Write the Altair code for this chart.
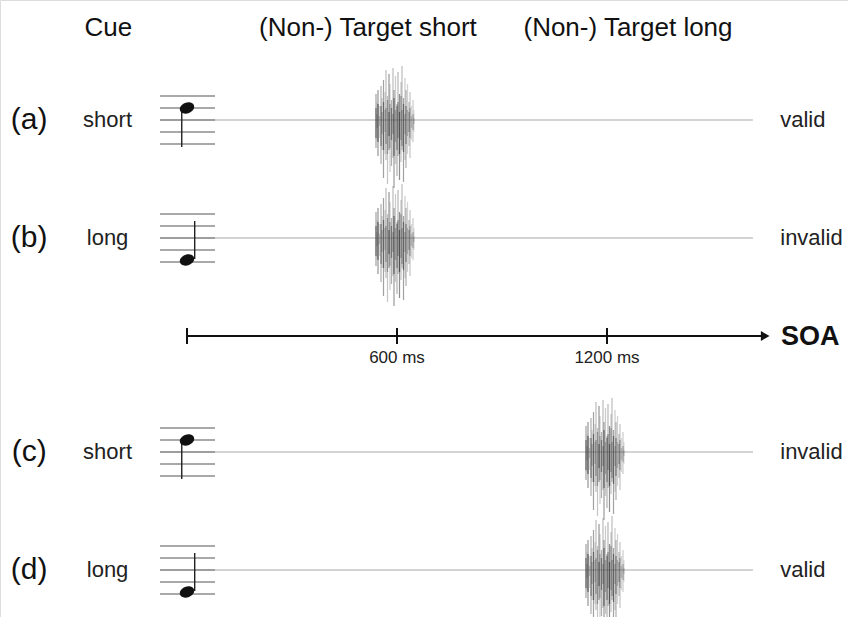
import altair as alt
import pandas as pd

# ---- trial types -------------------------------------------------------
ROW_TAGS = ["(a)", "(b)", "(c)", "(d)"]
CUES = ["short", "long", "short", "long"]
TARGET_MS = [600, 600, 1200, 1200]
VALIDITY = ["valid", "invalid", "invalid", "valid"]

HEADERS = ["Cue", "(Non-) Target short", "(Non-) Target long"]
SOA_TICKS = [0, 600, 1200]
SOA_LABELS = ["", "600 ms", "1200 ms"]

# ---- noise burst waveform: strand offset (px), extent above / below, darkness
BURST_OFFSET = [-21, -20, -19, -17.5, -16, -15, -13.5, -12, -11, -9.5, -8, -7, -5.5, -4, -3,
                -1.5, 0, 1, 2.5, 4, 5, 6.5, 8, 9, 10.5, 12, 13, 14.5, 16, 17]
BURST_UP = [26, 18, 30, 14, 34, 22, 40, 28, 50, 24, 46, 36, 20, 52, 30,
            44, 16, 48, 26, 38, 54, 22, 42, 30, 36, 18, 28, 14, 20, 10]
BURST_DOWN = [28, 20, 36, 18, 44, 30, 58, 34, 40, 64, 30, 52, 46, 38, 68,
              44, 56, 36, 60, 42, 30, 62, 40, 48, 34, 26, 38, 20, 22, 12]
BURST_SHADE = [0.7, 0.3, 0.8, 0.3, 0.6, 0.4, 0.7, 0.35, 0.5, 0.45, 0.8, 0.4, 0.6, 0.5, 0.75,
               0.4, 0.6, 0.55, 0.85, 0.45, 0.5, 0.7, 0.4, 0.6, 0.35, 0.5, 0.45, 0.3, 0.4, 0.25]
CORE_UP = [12, 6, 16, 4, 14, 8, 18, 10, 12, 20, 8, 16, 12, 6, 22,
           10, 14, 18, 8, 24, 10, 16, 6, 14, 10, 8, 12, 4, 6, 2]
CORE_DOWN = [18, 8, 22, 6, 26, 14, 30, 12, 24, 34, 16, 28, 20, 14, 36,
             22, 30, 18, 34, 20, 26, 32, 14, 24, 16, 12, 18, 8, 10, 4]

# ---- layout ------------------------------------------------------------
W, H = 848, 617
ORIGIN_PX = 187          # cue onset (0 ms) on the horizontal scale
PX_PER_MS = 0.35
ROW_Y = [120, 238, 452, 570]
AXIS_Y = 336
STAFF_GAP = 12
STAFF_X0, STAFF_X1 = -77, 80      # ms
LINE_END = 1617
AXIS_END = 1640
ARROW_AT = 1652
TAG_X = -451
CUE_X = -227
RIGHT_X = 1695
HEADER_X = [-225, 517, 1260]
HEADER_Y = 28
FONT = "Liberation Sans"

xs = alt.Scale(domain=[-ORIGIN_PX / PX_PER_MS, (W - ORIGIN_PX) / PX_PER_MS], nice=False, zero=False)
ys = alt.Scale(domain=[0, H], reverse=True, nice=False, zero=False)


def X(f="x"):
    return alt.X(f"{f}:Q", scale=xs, axis=None)


def Y(f="y"):
    return alt.Y(f"{f}:Q", scale=ys, axis=None)


rows = pd.DataFrame({"tag": ROW_TAGS, "cue": CUES, "target": TARGET_MS,
                     "validity": VALIDITY, "y": ROW_Y})

staff = pd.DataFrame([{"x": STAFF_X0, "x2": STAFF_X1, "y": ry + k * STAFF_GAP}
                      for ry in ROW_Y for k in range(-2, 3)])
lines = pd.DataFrame({"x": [STAFF_X0] * 4, "x2": [LINE_END] * 4, "y": ROW_Y})

stems, heads = [], []
for ry, cue in zip(ROW_Y, CUES):
    if cue == "short":
        heads.append({"x": 0, "y": ry - STAFF_GAP})
        stems.append({"x": -15, "y": ry - 11, "y2": ry + 27})
    else:
        heads.append({"x": 0, "y": ry + 22})
        stems.append({"x": 22, "y": ry - 17, "y2": ry + 21})
stems = pd.DataFrame(stems)
heads = pd.DataFrame(heads)

outer, core = [], []
for ry, t in zip(ROW_Y, TARGET_MS):
    for off, u, d, s, cu, cd in zip(BURST_OFFSET, BURST_UP, BURST_DOWN, BURST_SHADE, CORE_UP, CORE_DOWN):
        x = t + off / PX_PER_MS
        outer.append({"x": x, "y": ry - u, "y2": ry + d, "op": s})
        core.append({"x": x, "y": ry - cu, "y2": ry + cd, "op": s * 0.8})
outer = pd.DataFrame(outer)
core = pd.DataFrame(core)

axis_line = pd.DataFrame({"x": [0], "x2": [AXIS_END], "y": [AXIS_Y]})
ticks = pd.DataFrame({"x": SOA_TICKS, "label": SOA_LABELS,
                      "y": [AXIS_Y - 8] * 3, "y2": [AXIS_Y + 8] * 3,
                      "ly": [AXIS_Y + 22] * 3})
arrow = pd.DataFrame({"x": [ARROW_AT], "y": [AXIS_Y]})
soa = pd.DataFrame({"x": [RIGHT_X + 2], "y": [AXIS_Y + 1], "t": ["SOA"]})
headers = pd.DataFrame({"x": HEADER_X, "y": [HEADER_Y] * 3, "t": HEADERS})

NOTE_HEAD = "M -0.94 0.34 A 1 0.7 -20 1 1 0.94 -0.34 A 1 0.7 -20 1 1 -0.94 0.34 Z"
OP = alt.Opacity("op:Q", scale=None, legend=None)

layers = [
    alt.Chart(lines).mark_rule(color="#a8a8a8", strokeWidth=1.2).encode(x=X(), x2="x2", y=Y()),
    alt.Chart(staff).mark_rule(color="#8c8c8c", strokeWidth=1.4).encode(x=X(), x2="x2", y=Y()),
    alt.Chart(outer).mark_rule(color="#7a7a7a", strokeWidth=1.2).encode(x=X(), y=Y(), y2="y2", opacity=OP),
    alt.Chart(core).mark_rule(color="#333333", strokeWidth=1.3).encode(x=X(), y=Y(), y2="y2", opacity=OP),
    alt.Chart(stems).mark_rule(color="#222222", strokeWidth=1.4).encode(x=X(), y=Y(), y2="y2"),
    alt.Chart(heads).mark_point(shape=NOTE_HEAD, filled=True, color="#111111", opacity=1, size=220).encode(x=X(), y=Y()),
    alt.Chart(axis_line).mark_rule(color="#111111", strokeWidth=2).encode(x=X(), x2="x2", y=Y()),
    alt.Chart(ticks).mark_rule(color="#111111", strokeWidth=2).encode(x=X(), y=Y(), y2="y2"),
    alt.Chart(arrow).mark_point(shape="triangle-right", filled=True, color="#111111", opacity=1, size=100).encode(x=X(), y=Y()),
    alt.Chart(ticks).mark_text(font=FONT, fontSize=17, color="#222222", baseline="middle").encode(
        x=X(), y=Y("ly"), text="label:N"),
    alt.Chart(soa).mark_text(font=FONT, fontSize=27, fontWeight="bold", color="#111111", align="left",
                             baseline="middle").encode(x=X(), y=Y(), text="t:N"),
    alt.Chart(headers).mark_text(font=FONT, fontSize=26, color="#111111", baseline="middle").encode(
        x=X(), y=Y(), text="t:N"),
    alt.Chart(rows).mark_text(font=FONT, fontSize=30, color="#111111", baseline="middle").encode(
        x=alt.datum(TAG_X, scale=xs), y=Y(), text="tag:N"),
    alt.Chart(rows).mark_text(font=FONT, fontSize=22, color="#222222", baseline="middle").encode(
        x=alt.datum(CUE_X, scale=xs), y=Y(), text="cue:N"),
    alt.Chart(rows).mark_text(font=FONT, fontSize=22, color="#222222", align="left", baseline="middle").encode(
        x=alt.datum(RIGHT_X, scale=xs), y=Y(), text="validity:N"),
]

chart = alt.layer(*layers).properties(
    width=W, height=H, autosize=alt.AutoSizeParams(type="none"), padding=0
).configure_view(stroke=None).configure(background="white")

chart.save("out.html", embed_options={"renderer": "svg", "actions": False})
